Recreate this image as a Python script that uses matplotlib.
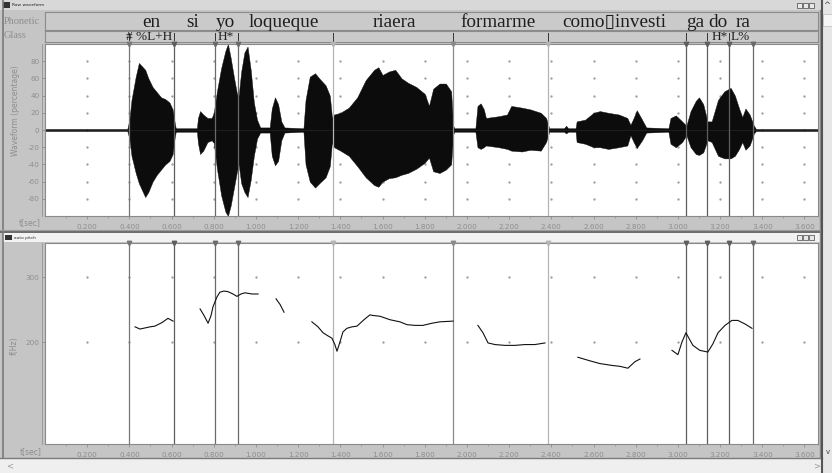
import matplotlib
matplotlib.use('Agg')
import matplotlib.pyplot as plt
from matplotlib.patches import Rectangle
from matplotlib.ticker import FixedLocator, NullLocator, NullFormatter, FixedFormatter

W, H = 832, 473

# ---------------- data ----------------
time_major = [0.2, 0.4, 0.6, 0.8, 1.0, 1.2, 1.4, 1.6, 1.8, 2.0, 2.2, 2.4, 2.6, 2.8, 3.0, 3.2, 3.4, 3.6]
time_labels = ['0.200', '0.400', '0.600', '0.800', '1.000', '1.200', '1.400', '1.600', '1.800',
               '2.000', '2.200', '2.400', '2.600', '2.800', '3.000', '3.200', '3.400', '3.600']
time_minor = [0.1, 0.3, 0.5, 0.7, 0.9, 1.1, 1.3, 1.5, 1.7, 1.9, 2.1, 2.3, 2.5, 2.7, 2.9, 3.1, 3.3, 3.5]

boundaries = [0.398, 0.611, 0.806, 0.915, 1.365, 1.934, 2.384, 3.038, 3.137, 3.242, 3.355]
boundary_colors = ['#777777', '#5e5e5e', '#6a6a6a', '#6a6a6a', '#b4b4b4', '#8a8a8a',
                   '#b4b4b4', '#5e5e5e', '#5e5e5e', '#5e5e5e', '#6a6a6a']
glass_marks = ['|', '|', '|', '|', '!', '!', '!', '|', '|', '|', '']

phonetic_words = ['en', 'si', 'yo', 'loqueque', 'riaera', 'formarme', 'como\u25afinvesti', 'ga', 'do', 'ra']
phonetic_times = [0.502, 0.701, 0.853, 1.133, 1.654, 2.147, 2.697, 3.081, 3.190, 3.308]

glass_labels = ['# %L+H', 'H*', 'H*', 'L%']
glass_times = [0.386, 0.818, 3.162, 3.252]

wave_yticks = [-80, -60, -40, -20, 0, 20, 40, 60, 80]

# waveform amplitude envelope (percentage)
wave_t = [0.00, 0.39, 0.40, 0.41, 0.43, 0.445, 0.46, 0.475, 0.49, 0.51, 0.53, 0.55, 0.57, 0.59,
          0.605, 0.615, 0.62, 0.72, 0.725, 0.735, 0.75, 0.77, 0.79, 0.80, 0.815, 0.835, 0.855,
          0.867, 0.88, 0.895, 0.91, 0.918, 0.93, 0.945, 0.96, 0.975, 0.99, 1.005, 1.02, 1.065,
          1.075, 1.09, 1.105, 1.12, 1.135, 1.225, 1.235, 1.255, 1.28, 1.30, 1.33, 1.35, 1.36,
          1.37, 1.40, 1.44, 1.48, 1.52, 1.56, 1.58, 1.60, 1.63, 1.66, 1.69, 1.72, 1.76, 1.80,
          1.82, 1.84, 1.87, 1.90, 1.925, 1.935, 1.94, 2.04, 2.05, 2.065, 2.08, 2.09, 2.15, 2.19,
          2.21, 2.26, 2.30, 2.35, 2.375, 2.39, 2.46, 2.47, 2.48, 2.515, 2.52, 2.56, 2.60, 2.63,
          2.67, 2.72, 2.76, 2.775, 2.79, 2.805, 2.83, 2.85, 2.955, 2.965, 2.99, 3.02, 3.04, 3.06,
          3.085, 3.10, 3.12, 3.14, 3.16, 3.19, 3.22, 3.25, 3.27, 3.29, 3.305, 3.32, 3.34, 3.36,
          3.37, 3.664]
wave_upper = [1.2, 1.2, 12, 35, 62, 78, 74, 70, 60, 50, 44, 38, 36, 32,
              24, 8, 2, 2, 14, 22, 18, 14, 14, 20, 45, 72, 92,
              100, 84, 62, 42, 40, 68, 90, 97, 70, 32, 12, 3, 3,
              25, 38, 30, 10, 3, 2, 35, 62, 66, 60, 52, 40, 15,
              18, 20, 26, 38, 58, 70, 73, 64, 68, 70, 60, 55, 50, 42,
              28, 48, 54, 54, 45, 5, 2, 2, 28, 31, 24, 14, 16, 18,
              28, 26, 24, 20, 14, 2, 2, 5, 2, 2, 10, 12, 20, 22,
              20, 18, 14, 6, 14, 23, 12, 3, 2, 14, 17, 10, 5, 22,
              34, 38, 30, 10, 10, 35, 45, 49, 40, 25, 15, 25, 18, 5,
              1.2, 1.2]
wave_lower = [-1.2, -1.2, -10, -30, -50, -62, -70, -78, -72, -60, -52, -46, -40, -36,
              -28, -8, -2, -2, -15, -28, -24, -14, -12, -15, -45, -76, -95,
              -100, -88, -68, -48, -40, -62, -72, -78, -58, -30, -10, -3, -3,
              -30, -41, -36, -12, -3, -2, -40, -60, -67, -62, -55, -42, -15,
              -20, -24, -30, -42, -55, -64, -66, -60, -56, -55, -52, -50, -45, -38,
              -32, -48, -50, -46, -40, -5, -2, -2, -20, -22, -20, -18, -20, -22,
              -24, -25, -23, -24, -14, -2, -2, -4, -2, -2, -14, -16, -20, -20,
              -22, -20, -18, -6, -14, -21, -12, -3, -2, -16, -20, -14, -6, -20,
              -28, -29, -26, -12, -14, -30, -33, -33, -30, -22, -14, -23, -18, -4,
              -1.2, -1.2]

pitch_yticks = [200, 300]
# pitch contour segments (seconds, Hz)
pitch_t = [
    [0.427, 0.450, 0.498, 0.521, 0.555, 0.583, 0.607],
    [0.735, 0.754, 0.773, 0.787, 0.796, 0.815, 0.829, 0.848, 0.867, 0.891, 0.910, 0.929, 0.948,
     0.981, 1.010],
    [1.095, 1.114, 1.133],
    [1.265, 1.294, 1.318, 1.341, 1.360, 1.374, 1.384, 1.398, 1.412, 1.431, 1.455, 1.479, 1.512,
     1.540, 1.559, 1.588, 1.635, 1.682, 1.716, 1.754, 1.791, 1.834, 1.872, 1.934],
    [2.052, 2.076, 2.100, 2.133, 2.180, 2.227, 2.275, 2.322, 2.370],
    [2.526, 2.583, 2.630, 2.687, 2.725, 2.763, 2.796, 2.820],
    [2.972, 3.000, 3.019, 3.038, 3.052, 3.071, 3.104, 3.142, 3.166, 3.190, 3.223, 3.256, 3.284,
     3.318, 3.351],
]
pitch_hz = [
    [220, 217, 220, 221, 226, 232, 228],
    [246, 236, 225, 236, 249, 265, 273, 275, 274, 270, 266, 270, 272, 270, 270],
    [262, 253, 241],
    [227, 220, 212, 208, 205, 197, 189, 200, 213, 218, 220, 221, 230,
     237, 236, 235, 230, 227, 223, 222, 222, 225, 227, 228],
    [222, 212, 199, 197, 196, 196, 197, 197, 199],
    [182, 178, 175, 173, 172, 170, 177, 180],
    [190, 185, 200, 212, 205, 196, 190, 188, 198, 212, 222, 229, 229, 224, 218],
]

# ---------------- styles ----------------
PANEL = '#c5c5c5'
TIER = '#cacaca'
LABEL = '#8e8e8e'
EDGE = '#8a8a8a'
XMAX = 3.664


def rect_px(x0, y0, x1, y1):
    return [x0 / W, 1 - y1 / H, (x1 - x0) / W, (y1 - y0) / H]


fig = plt.figure(figsize=(W / 100, H / 100), dpi=100)
fig.patch.set_facecolor(PANEL)

bg = fig.add_axes([0, 0, 1, 1])
bg.set_xlim(0, W)
bg.set_ylim(H, 0)
bg.axis('off')

# window chrome
bg.add_patch(Rectangle((0, 0), 822, 10, fc='#d8d8d8', ec='none'))
bg.add_patch(Rectangle((3, 2), 7, 6, fc='#333333', ec='none'))
bg.text(12, 5.5, 'Raw waveform', fontsize=3.2, color='#222222', va='center')
bg.add_patch(Rectangle((0, 231), 822, 2, fc='#6e6e6e', ec='none'))
bg.add_patch(Rectangle((3, 233), 819, 9, fc='#f2f2f2', ec='none'))
bg.add_patch(Rectangle((5, 235), 7, 5, fc='#333333', ec='none'))
bg.text(14, 237.5, 'auto pitch', fontsize=3.2, color='#333333', va='center')
for bx in [797, 803, 809]:
    bg.add_patch(Rectangle((bx, 3), 5, 5, fc='#e8e8e8', ec='#444444', lw=0.5))
    bg.add_patch(Rectangle((bx, 235), 5, 5, fc='#e8e8e8', ec='#444444', lw=0.5))
bg.plot([2.5, 2.5], [0, 458], color='#7a7a7a', lw=1.2)
bg.plot([42, 42], [44, 216], color='#9a9a9a', lw=0.7)
bg.plot([42, 42], [243, 444], color='#9a9a9a', lw=0.7)
bg.plot([0, 822], [230, 230], color='#9c9c9c', lw=0.8)
bg.plot([0, 822], [458, 458], color='#7a7a7a', lw=1.0)
bg.plot([819.5, 819.5], [10, 458], color='#8a8a8a', lw=1.0)
# scrollbars
bg.add_patch(Rectangle((0, 459), 822, 14, fc='#efefef', ec='none'))
bg.add_patch(Rectangle((822, 0), 10, 473, fc='#e6e6e6', ec='none'))
bg.plot([822, 822], [0, 473], color='#555555', lw=1.5)
bg.add_patch(Rectangle((823, 14), 9, 12, fc='#f6f6f6', ec='#bbbbbb', lw=0.5))
bg.text(827, 6, '^', fontsize=6, ha='center', va='center', color='#444444')
bg.text(828, 452, 'v', fontsize=5, ha='center', va='center', color='#444444')
bg.text(10, 466, '<', fontsize=6, ha='center', va='center', color='#9a9a9a')
bg.text(817, 466, '>', fontsize=6, ha='center', va='center', color='#9a9a9a')

# left labels
bg.text(4, 21, 'Phonetic', family='Liberation Serif', fontsize=7.5, color=LABEL, va='center')
bg.text(4, 36, 'Glass', family='Liberation Serif', fontsize=7.5, color=LABEL, va='center')
bg.text(16, 111, 'Waveform (percentage)', fontsize=5.5, color=LABEL, rotation=90,
        ha='center', va='center')
bg.text(14, 346, 'f(Hz)', fontsize=5.5, color=LABEL, rotation=90, ha='center', va='center')
bg.text(30, 223, 't[sec]', fontsize=5.5, color=LABEL, ha='center', va='center')
bg.text(31, 452, 't[sec]', fontsize=5.5, color=LABEL, ha='center', va='center')

# ---------------- tiers ----------------
ax_ph = fig.add_axes(rect_px(45, 12, 818, 30))
ax_gl = fig.add_axes(rect_px(45, 31, 818, 42))
for ax in (ax_ph, ax_gl):
    ax.set_facecolor(TIER)
    ax.set_xlim(0, XMAX)
    ax.set_ylim(0, 1)
    ax.set_xticks([])
    ax.set_yticks([])
    for s in ax.spines.values():
        s.set_color('#8c8c8c')
        s.set_linewidth(0.8)

for w, t in zip(phonetic_words, phonetic_times):
    ax_ph.text(t, 0.17, w, family=['Liberation Serif', 'DejaVu Sans'], fontsize=13.8,
               color='#1e1e1e', ha='center', va='baseline')
for g, t in zip(glass_labels, glass_times):
    ax_gl.text(t, 0.22, g, family='Liberation Serif', fontsize=9.5, color='#1e1e1e',
               ha='left', va='baseline')
for b, m in zip(boundaries, glass_marks):
    if m == '|':
        ax_gl.plot([b, b], [0.2, 0.85], color='#333333', lw=0.7)
    elif m == '!':
        ax_gl.plot([b, b], [0.4, 0.85], color='#333333', lw=0.7)
        ax_gl.plot([b, b], [0.12, 0.25], color='#333333', lw=0.7)


# ---------------- plots ----------------
def style_time_axis(ax):
    ax.set_xlim(0, XMAX)
    ax.xaxis.set_major_locator(FixedLocator(time_major))
    ax.xaxis.set_major_formatter(FixedFormatter(time_labels))
    ax.xaxis.set_minor_locator(FixedLocator(time_minor))
    ax.tick_params(axis='x', which='major', direction='out', length=2.5, width=0.6,
                   color=LABEL, labelsize=5.2, labelcolor=LABEL, pad=3.5)
    ax.tick_params(axis='x', which='minor', direction='out', length=1.5, width=0.5, color=LABEL)
    ax.tick_params(axis='y', which='major', direction='out', length=2.5, width=0.6,
                   color=LABEL, labelsize=5.2, labelcolor=LABEL, pad=1.5)
    for s in ax.spines.values():
        s.set_color(EDGE)
        s.set_linewidth(0.8)


def boundary_lines(ax):
    for b, c in zip(boundaries, boundary_colors):
        ax.axvline(b, color=c, lw=0.9, zorder=3)
        ax.plot([b], [1.0], marker='v', ms=3.2, color=c, transform=ax.get_xaxis_transform(),
                clip_on=False, zorder=4)


# waveform
ax_w = fig.add_axes(rect_px(45, 44, 818, 216))
ax_w.set_facecolor('white')
style_time_axis(ax_w)
ax_w.set_ylim(-100, 100)
ax_w.set_yticks(wave_yticks)
ax_w.set_yticklabels([str(v) for v in wave_yticks])
for xt in time_major:
    ax_w.plot([xt] * len(wave_yticks), wave_yticks, ls='none', marker='.', ms=1.3,
              color='#9a9a9a', zorder=1)
ax_w.fill_between(wave_t, wave_lower, wave_upper, color='#0c0c0c', lw=0.3, zorder=2)
ax_w.axhline(0, color='#222222', lw=0.6, zorder=2)
boundary_lines(ax_w)

# pitch
ax_p = fig.add_axes(rect_px(45, 243, 818, 444))
ax_p.set_facecolor('white')
ax_p.set_yscale('log')
ax_p.set_ylim(106, 371)
style_time_axis(ax_p)
ax_p.yaxis.set_major_locator(FixedLocator(pitch_yticks))
ax_p.yaxis.set_major_formatter(FixedFormatter([str(v) for v in pitch_yticks]))
ax_p.yaxis.set_minor_locator(NullLocator())
ax_p.yaxis.set_minor_formatter(NullFormatter())
for xt in time_major:
    ax_p.plot([xt] * len(pitch_yticks), pitch_yticks, ls='none', marker='.', ms=1.3,
              color='#9a9a9a', zorder=1)
boundary_lines(ax_p)
for ts, hz in zip(pitch_t, pitch_hz):
    ax_p.plot(ts, hz, color='#111111', lw=0.8, zorder=5)

fig.savefig('out.png', dpi=100, facecolor=fig.get_facecolor())
